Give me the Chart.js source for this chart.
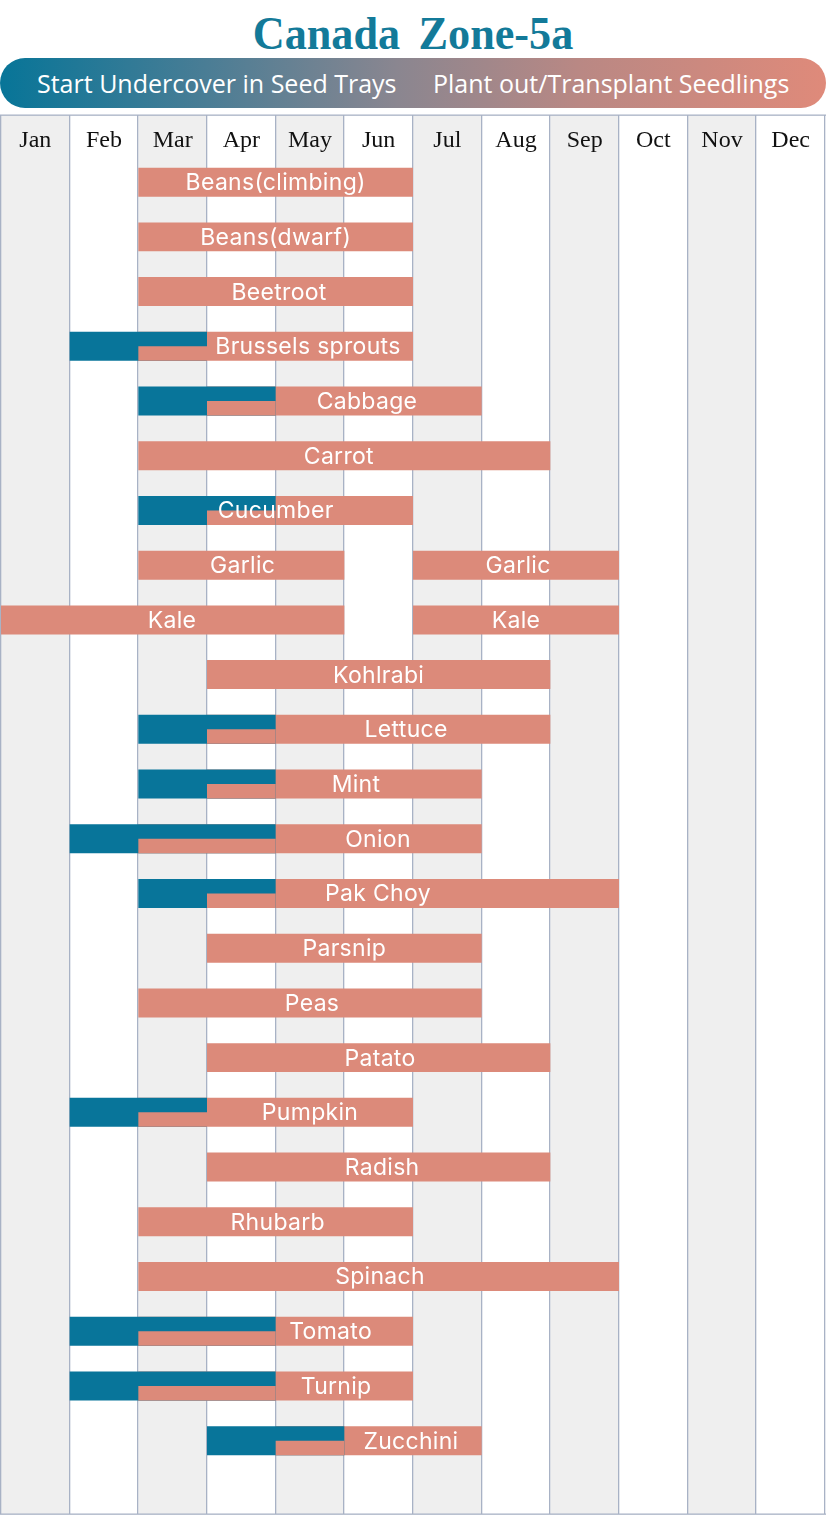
<!DOCTYPE html>
<html>
<head>
<meta charset="utf-8">
<script src="https://cdn.jsdelivr.net/npm/chart.js@4.4.1/dist/chart.umd.min.js"></script>
<style>
  html, body { margin: 0; padding: 0; background: #ffffff; }
  body { width: 826px; height: 1516px; position: relative; overflow: hidden; }
  #title {
    position: absolute; left: 0; top: 7px; width: 826px; text-align: center;
    font-family: "Liberation Serif", "DejaVu Serif", serif; font-weight: bold;
    font-size: 47px; line-height: 52px; color: #137a99; word-spacing: 8px;
    transform: scaleX(0.94); transform-origin: 413px 0;
  }
  #legend {
    position: absolute; left: 0; top: 58px; width: 826px; height: 50px;
    border-radius: 25px;
    background: linear-gradient(90deg, #077598 0%, #4a7d95 25%, #8a8690 48%, #b98884 70%, #df8a7a 100%);
    color: #ffffff; font-family: "Open Sans", sans-serif; font-size: 25px;
  }
  #legend span { position: absolute; top: 0; line-height: 50px; white-space: nowrap; }
  #wrap { position: absolute; left: 0; top: 114px; width: 826px; height: 1402px; }
</style>
</head>
<body>
<div id="title">Canada Zone-5a</div>
<div id="legend"><span id="lg1" style="left:37px">Start Undercover in Seed Trays</span><span id="lg2" style="left:433px">Plant out/Transplant Seedlings</span></div>
<div id="wrap"><canvas id="c" width="826" height="1402"></canvas></div>
<script>
// ---- data (months: Jan = 0 ... Dec = 12 boundary) ----
const months = ["Jan","Feb","Mar","Apr","May","Jun","Jul","Aug","Sep","Oct","Nov","Dec"];
const crops = ["Beans(climbing)","Beans(dwarf)","Beetroot","Brussels sprouts","Cabbage","Carrot","Cucumber","Garlic","Kale","Kohlrabi","Lettuce","Mint","Onion","Pak Choy","Parsnip","Peas","Patato","Pumpkin","Radish","Rhubarb","Spinach","Tomato","Turnip","Zucchini"];
const sowStart   = [null,null,null,1,2,null,2,null,null,null,2,2,1,2,null,null,null,1,null,null,null,1,1,3];
const sowEnd     = [null,null,null,3,4,null,4,null,null,null,4,4,4,4,null,null,null,3,null,null,null,4,4,5];
const plantStart = [2,2,2,2,3,2,3,2,0,3,3,3,2,3,3,2,3,2,3,2,2,2,2,4];
const plantEnd   = [6,6,6,6,7,8,6,5,5,8,8,7,7,9,7,7,8,6,8,6,9,6,6,7];
const plant2Start= [null,null,null,null,null,null,null,6,6,null,null,null,null,null,null,null,null,null,null,null,null,null,null,null];
const plant2End  = [null,null,null,null,null,null,null,9,9,null,null,null,null,null,null,null,null,null,null,null,null,null,null,null];
const labelAt    = [4.0,4.0,4.05,4.47,5.33,4.92,4.0,3.52,2.49,5.5,5.9,5.17,5.49,5.49,5.0,4.53,5.52,4.5,5.55,4.03,5.52,4.8,4.88,5.97];
const labelAt2   = [null,null,null,null,null,null,null,7.53,7.5,null,null,null,null,null,null,null,null,null,null,null,null,null,null,null];

const BLUE = "#08759a", SALMON = "#dc8a7a";

// derived floating ranges
const plantFull = crops.map((_, i) => [plantStart[i], plantEnd[i]]);
const plant2    = crops.map((_, i) => plant2Start[i] == null ? null : [plant2Start[i], plant2End[i]]);
const sowFull   = crops.map((_, i) => sowStart[i] == null ? null : [sowStart[i], sowEnd[i]]);
const overlapLow = crops.map((_, i) => sowStart[i] == null ? null : [plantStart[i], sowEnd[i]]);
const emptyTop  = crops.map(() => null);

const bg = {
  id: "bg",
  beforeDraw(chart) {
    const ctx = chart.ctx, xs = chart.scales.x, H = chart.height;
    ctx.save();
    for (let m = 0; m < 12; m++) {
      const a = xs.getPixelForValue(m), b = xs.getPixelForValue(m + 1);
      ctx.fillStyle = (m % 2 === 0) ? "#efefef" : "#ffffff";
      ctx.fillRect(a, 1, b - a, H - 3);
    }
    ctx.fillStyle = "#a8b2c5";
    for (let m = 0; m <= 12; m++) {
      const x = Math.round(xs.getPixelForValue(m));
      ctx.fillRect(x - 1, 1, 1.3, H - 3);
    }
    ctx.fillRect(0, 0.5, chart.width, 1.3);
    ctx.fillRect(0, H - 2.5, chart.width, 1.3);
    ctx.restore();
  },
  afterDatasetsDraw(chart) {
    const ctx = chart.ctx, xs = chart.scales.x, ys = chart.scales.y;
    ctx.save();
    ctx.fillStyle = "#ffffff";
    ctx.font = "23px Inter, 'Open Sans', sans-serif";
    ctx.letterSpacing = "0.3px";
    ctx.textAlign = "center";
    ctx.textBaseline = "middle";
    crops.forEach((c, i) => {
      const y = ys.getPixelForValue(i) + 1;
      ctx.fillText(c, xs.getPixelForValue(labelAt[i]), y);
      if (labelAt2[i] != null) ctx.fillText(c, xs.getPixelForValue(labelAt2[i]), y);
    });
    ctx.restore();
  }
};

const full = { borderWidth: 0, borderSkipped: false, inflateAmount: 0, grouped: false, barPercentage: 0.53, categoryPercentage: 1.0 };
const half = { borderWidth: 0, borderSkipped: false, inflateAmount: 0, grouped: true, barPercentage: 1.0, categoryPercentage: 0.53 };
new Chart(document.getElementById("c"), {
  type: "bar",
  data: {
    labels: crops,
    datasets: [
      { label: "(upper slot)", data: emptyTop, backgroundColor: SALMON, stack: "top", order: 1, ...half },
      { label: "Plant out (lower half)", data: overlapLow, backgroundColor: SALMON, stack: "bot", order: 1, ...half },
      { label: "Start Undercover in Seed Trays", data: sowFull, backgroundColor: BLUE, order: 2, ...full },
      { label: "Plant out/Transplant Seedlings", data: plantFull, backgroundColor: SALMON, order: 3, ...full },
      { label: "Plant out/Transplant Seedlings (second)", data: plant2, backgroundColor: SALMON, order: 3, ...full }
    ]
  },
  options: {
    indexAxis: "y",
    responsive: false,
    animation: false,
    devicePixelRatio: 1,
    layout: { padding: { top: 12, bottom: 48, left: 1, right: 1 } },
    plugins: { legend: { display: false }, tooltip: { enabled: false } },
    scales: {
      x: { type: "linear", min: 0, max: 12, stacked: false, display: false },
      x2: {
        type: "category", labels: months, position: "top", offset: true,
        grid: { display: false, drawTicks: false }, border: { display: false },
        ticks: { padding: 0, color: "#111111", maxRotation: 0, autoSkip: false,
                 font: { family: "'Liberation Serif', 'DejaVu Serif', serif", size: 24 } }
      },
      y: { type: "category", display: false, stacked: false, grid: { display: false } }
    }
  },
  plugins: [bg]
});
</script>
</body>
</html>
